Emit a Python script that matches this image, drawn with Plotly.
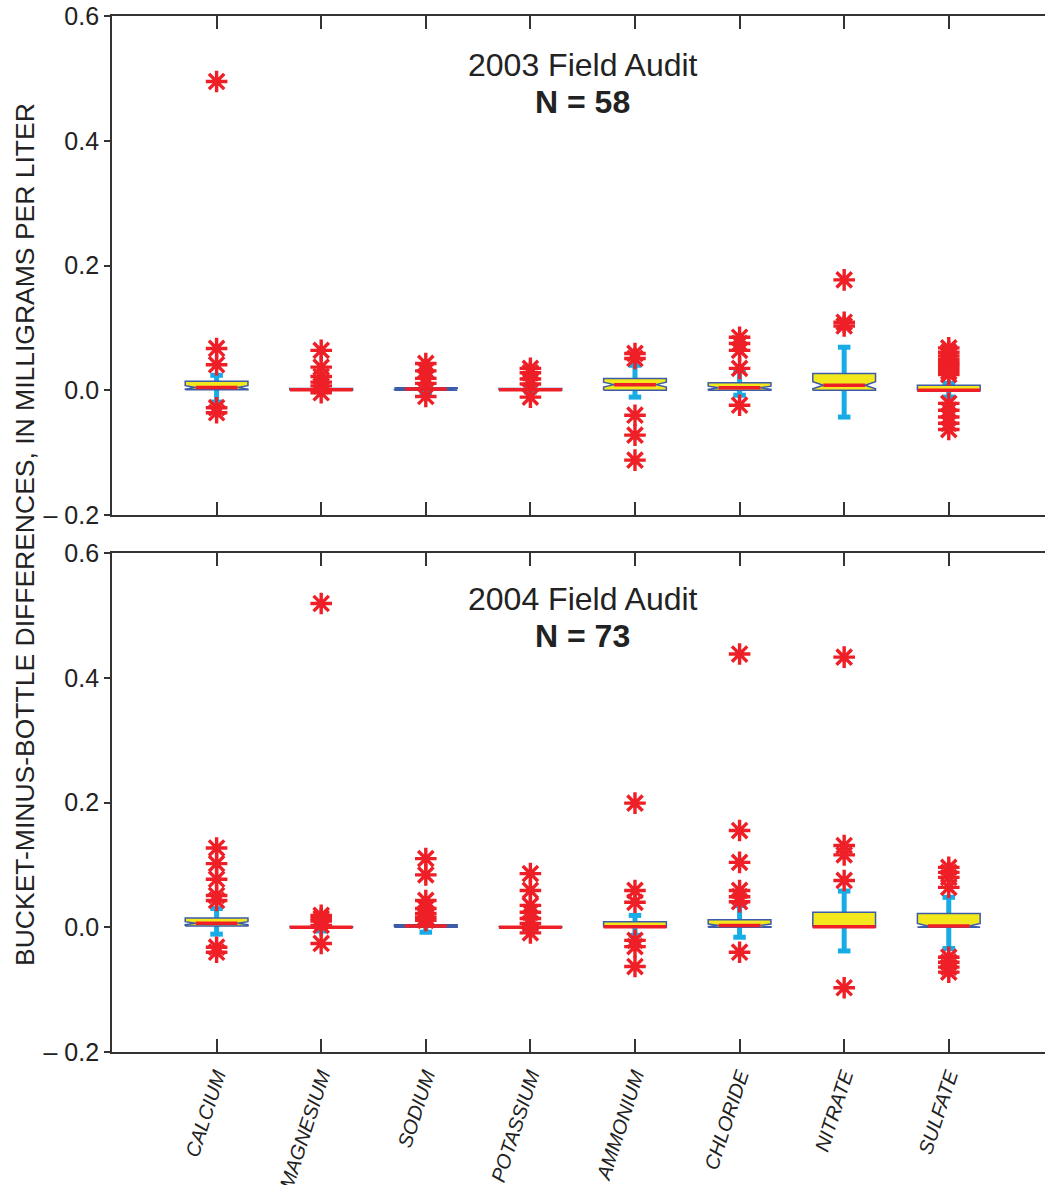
import math
import plotly.graph_objects as go

categories = ["CALCIUM", "MAGNESIUM", "SODIUM", "POTASSIUM",
              "AMMONIUM", "CHLORIDE", "NITRATE", "SULFATE"]

# ---- 2003 field audit (N = 58) ----
n_2003 = 58
q1_2003 = [0.001, 0.000, 0.000, 0.000, 0.000, 0.000, 0.000, -0.001]
med_2003 = [0.0045, 0.001, 0.002, 0.001, 0.009, 0.004, 0.008, 0.000]
q3_2003 = [0.0145, 0.003, 0.004, 0.003, 0.019, 0.012, 0.027, 0.008]
lo_2003 = [-0.019, -0.002, -0.004, -0.003, -0.011, -0.008, -0.043, -0.011]
hi_2003 = [0.024, 0.005, 0.008, 0.006, 0.040, 0.032, 0.069, 0.011]
out_2003 = [
    [0.495, 0.067, 0.041, -0.028, -0.036],
    [0.064, 0.037, 0.022, 0.013, 0.007, -0.004],
    [0.043, 0.031, 0.019, 0.011, -0.010],
    [0.035, 0.028, 0.018, 0.010, -0.011],
    [0.059, 0.051, -0.040, -0.072, -0.112],
    [0.085, 0.075, 0.064, 0.035, -0.024],
    [0.177, 0.109, 0.103],
    [0.068, 0.061, 0.055, 0.049, 0.044, 0.040, 0.035, 0.030, 0.025,
     -0.021, -0.032, -0.043, -0.053, -0.063],
]

# ---- 2004 field audit (N = 73) ----
n_2004 = 73
q1_2004 = [0.002, 0.000, 0.000, 0.000, 0.000, 0.000, 0.000, 0.000]
med_2004 = [0.0065, 0.000, 0.002, 0.000, 0.001, 0.003, 0.001, 0.002]
q3_2004 = [0.015, 0.001, 0.004, 0.001, 0.009, 0.012, 0.024, 0.022]
lo_2004 = [-0.011, -0.006, -0.008, -0.004, -0.013, -0.016, -0.038, -0.034]
hi_2004 = [0.030, 0.006, 0.008, 0.004, 0.019, 0.035, 0.058, 0.048]
out_2004 = [
    [0.127, 0.102, 0.077, 0.051, 0.043, -0.032, -0.040],
    [0.519, 0.019, 0.014, 0.010, 0.003, -0.026],
    [0.110, 0.084, 0.043, 0.030, 0.022, 0.016, 0.011],
    [0.086, 0.059, 0.035, 0.024, 0.014, 0.006, -0.009],
    [0.199, 0.059, 0.040, -0.021, -0.031, -0.063],
    [0.438, 0.155, 0.104, 0.059, 0.049, 0.041, -0.040],
    [0.433, 0.131, 0.116, 0.075, -0.097],
    [0.096, 0.088, 0.080, 0.064, -0.048, -0.056, -0.064, -0.072],
]

panels = [
    ("2003 Field Audit", n_2003, q1_2003, med_2003, q3_2003, lo_2003, hi_2003, out_2003, "x", "y"),
    ("2004 Field Audit", n_2004, q1_2004, med_2004, q3_2004, lo_2004, hi_2004, out_2004, "x2", "y2"),
]

YELLOW = "#f2e81c"
BOX_LINE = "#3c5ba8"
RED = "#ee1f26"
CYAN = "#17ace6"
AXIS = "#333333"
FONT = "Liberation Sans, Arial, sans-serif"

W = 0.30      # box half width (category units)
WN = 0.20     # notch half width
CAP = 0.06    # whisker cap half width

fig = go.Figure()

for title, n, q1, med, q3, lo, hi, outs, xa, ya in panels:
    wx, wy, cx, cy = [], [], [], []
    bx, by, mx, my, ox, oy = [], [], [], [], [], []
    for i in range(len(categories)):
        c = i + 1
        # whiskers
        wx += [c, c, None, c, c, None]
        wy += [q3[i], hi[i], None, lo[i], q1[i], None]
        cx += [c - CAP, c + CAP, None, c - CAP, c + CAP, None]
        cy += [hi[i], hi[i], None, lo[i], lo[i], None]
        # notched box
        notch = 1.57 * (q3[i] - q1[i]) / math.sqrt(n)
        nlo = max(q1[i], med[i] - notch)
        nhi = min(q3[i], med[i] + notch)
        has_notch = (med[i] - q1[i]) > 0.0015 and (q3[i] - med[i]) > 0.0015
        if has_notch:
            bx += [c - W, c - W, c - WN, c - W, c - W, c + W, c + W, c + WN, c + W, c + W, c - W, None]
            by += [q1[i], nlo, med[i], nhi, q3[i], q3[i], nhi, med[i], nlo, q1[i], q1[i], None]
            mw = WN
        else:
            bx += [c - W, c - W, c + W, c + W, c - W, None]
            by += [q1[i], q3[i], q3[i], q1[i], q1[i], None]
            mw = W
        mx += [c - mw, c + mw, None]
        my += [med[i], med[i], None]
        for v in outs[i]:
            ox.append(c)
            oy.append(v)

    common = dict(xaxis=xa, yaxis=ya, showlegend=False, hoverinfo="skip")
    fig.add_trace(go.Scatter(x=wx, y=wy, mode="lines", line=dict(color=CYAN, width=5), **common))
    fig.add_trace(go.Scatter(x=cx, y=cy, mode="lines", line=dict(color=CYAN, width=5), **common))
    fig.add_trace(go.Scatter(x=bx, y=by, mode="lines", fill="toself", fillcolor=YELLOW,
                             line=dict(color=BOX_LINE, width=1.5), **common))
    fig.add_trace(go.Scatter(x=mx, y=my, mode="lines", line=dict(color=RED, width=3.5), **common))
    fig.add_trace(go.Scatter(x=ox, y=oy, mode="markers",
                             marker=dict(symbol="asterisk-open", size=18,
                                         line=dict(color=RED, width=3.4), color=RED),
                             **common))
    fig.add_annotation(x=4.5, y=0.521 if ya == "y" else 0.527, xref=xa, yref=ya,
                       text=title, showarrow=False,
                       font=dict(family=FONT, size=32, color="#222222"))
    fig.add_annotation(x=4.5, y=0.462 if ya == "y" else 0.467, xref=xa, yref=ya,
                       text="<b>N = %d</b>" % n, showarrow=False,
                       font=dict(family=FONT, size=32, color="#222222"))

ytickvals = [-0.2, 0.0, 0.2, 0.4, 0.6]
yticktext = ["\u2013 0.2", "0.0", "0.2", "0.4", "0.6"]

xcommon = dict(range=[0, 8.92], tickmode="array", tickvals=list(range(1, 9)),
               ticktext=categories, ticks="inside", ticklen=13, tickwidth=1.5,
               tickcolor=AXIS, showline=True, linecolor=AXIS, linewidth=1.8,
               mirror="ticks", showgrid=False, zeroline=False, automargin=False)
ycommon = dict(range=[-0.2, 0.6], tickmode="array", tickvals=ytickvals,
               ticktext=yticktext, ticks="outside", ticklen=6, tickwidth=1.5,
               tickcolor=AXIS, showline=True, linecolor=AXIS, linewidth=1.8,
               showgrid=False, zeroline=False, automargin=False,
               tickfont=dict(family=FONT, size=25, color="#222222"))

FIG_W, FIG_H = 1045, 1185
ML, MT, MB = 112, 16, 133
PH = FIG_H - MT - MB          # 1036
PW = FIG_W - ML               # 933
top_dom = [(PH - 499) / PH, 1.0]
bot_dom = [0.0, 499 / PH]

fig.update_layout(
    width=FIG_W, height=FIG_H,
    margin=dict(l=ML, r=0, t=MT, b=MB, autoexpand=False),
    paper_bgcolor="white", plot_bgcolor="white",
    xaxis=dict(**xcommon, anchor="y", showticklabels=False),
    yaxis=dict(**ycommon, domain=top_dom, anchor="x"),
    xaxis2=dict(**xcommon, anchor="y2", showticklabels=True, tickangle=-72,
                ticklabelstandoff=2,
                tickfont=dict(family=FONT, size=20, color="#222222", style="italic")),
    yaxis2=dict(**ycommon, domain=bot_dom, anchor="x2"),
    font=dict(family=FONT),
)

fig.add_annotation(x=(25 - ML) / PW, y=(PH + MT - 535) / PH, xref="paper", yref="paper",
                   xanchor="center", yanchor="middle", textangle=-90, showarrow=False,
                   text="BUCKET-MINUS-BOTTLE DIFFERENCES, IN MILLIGRAMS PER LITER",
                   font=dict(family=FONT, size=26.5, color="#222222"))

fig.write_html("out.html",
               config={"displayModeBar": False},
               post_script="document.body.style.margin='0';"
                           "document.body.style.overflow='hidden';")
